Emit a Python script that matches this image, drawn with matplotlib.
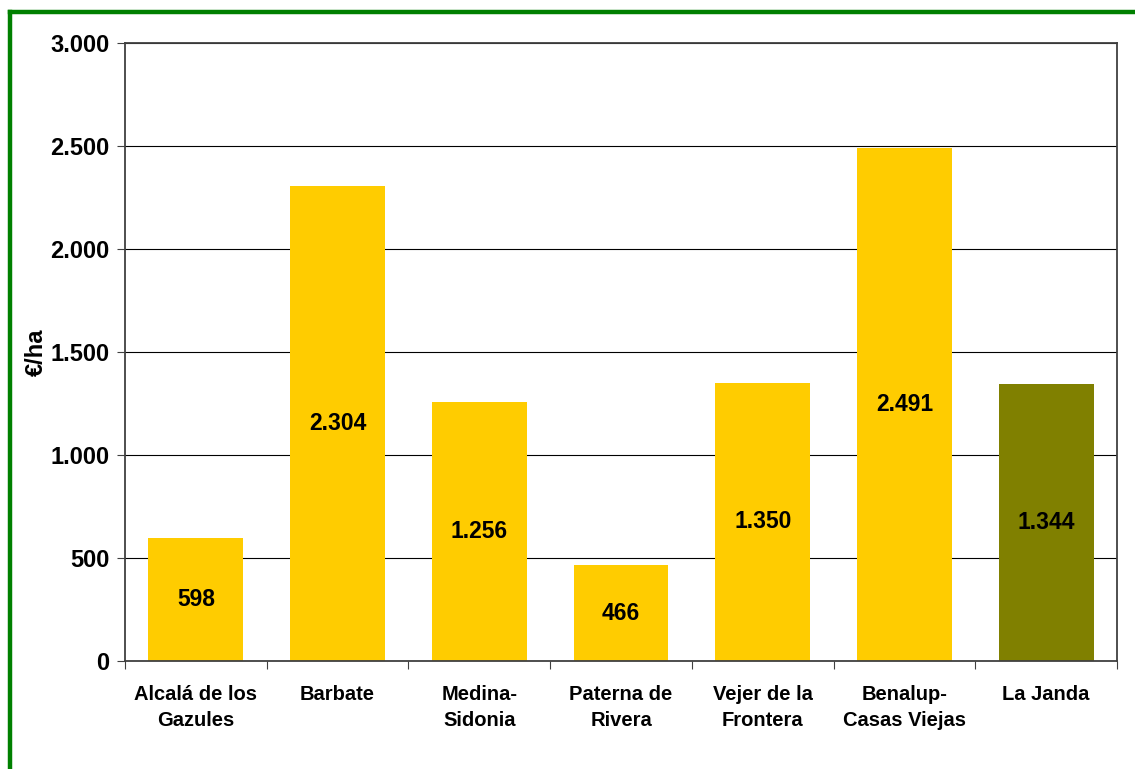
import matplotlib
matplotlib.use("Agg")
import matplotlib.pyplot as plt
from matplotlib.ticker import FuncFormatter
from matplotlib.lines import Line2D

categories = ["Alcalá de los\nGazules", "Barbate", "Medina-\nSidonia", "Paterna de\nRivera",
              "Vejer de la\nFrontera", "Benalup-\nCasas Viejas", "La Janda"]
values = [598, 2304, 1256, 466, 1350, 2491, 1344]
labels = ["598", "2.304", "1.256", "466", "1.350", "2.491", "1.344"]
colors = ["#FFCC00"] * 6 + ["#808000"]
yticks = [0, 500, 1000, 1500, 2000, 2500, 3000]

plt.rcParams['font.family'] = ['Liberation Sans', 'DejaVu Sans']

W, H = 1135, 769
fig = plt.figure(figsize=(W / 100, H / 100), dpi=100)
ax = fig.add_axes([125 / W, 1 - 661 / H, (1117 - 125) / W, (661 - 43) / H])

x = list(range(len(categories)))
ax.bar(x, values, width=0.67, color=colors, zorder=2)
for xi, v, lab in zip(x, values, labels):
    ax.text(xi, v / 2, lab, ha="center", va="center", fontsize=16.5, fontweight="bold", zorder=3)

ax.set_xlim(-0.5, len(categories) - 0.5)
ax.set_ylim(0, 3000)
ax.set_yticks(yticks)
ax.yaxis.set_major_formatter(FuncFormatter(lambda v, p: f"{int(v):,}".replace(",", ".")))
ax.grid(axis="y", color="black", linewidth=0.8, zorder=1)
ax.set_xticks([i - 0.5 for i in range(len(categories) + 1)])
ax.set_xticklabels([])
ax.set_xticks(x, minor=True)
ax.set_xticklabels(categories, minor=True, fontsize=14.5, fontweight="bold", linespacing=1.5)
ax.tick_params(axis="x", which="minor", length=0, pad=17)
ax.tick_params(axis="x", which="major", length=6, color="#404040")
ax.tick_params(axis="y", length=6, color="#404040", labelsize=17, pad=5)
for lab in ax.get_yticklabels():
    lab.set_fontweight("bold")
for s in ax.spines.values():
    s.set_color("#404040")
    s.set_linewidth(1.3)
ax.set_ylabel("€/ha", fontsize=17, fontweight="bold", labelpad=2)

# green frame (partly outside the image)
fig.add_artist(Line2D([10 / W, 10 / W], [0, 1 - 12 / H], color="#008000", linewidth=3.2, transform=fig.transFigure))
fig.add_artist(Line2D([10 / W, 1], [1 - 12 / H, 1 - 12 / H], color="#008000", linewidth=3.2, transform=fig.transFigure))

fig.savefig("out.png", dpi=100)
